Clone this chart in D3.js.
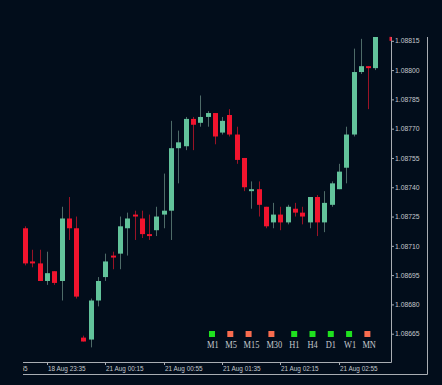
<!DOCTYPE html>
<html>
<head>
<meta charset="utf-8">
<script src="https://cdn.jsdelivr.net/npm/d3@7"></script>
<style>
  html, body { margin: 0; padding: 0; background: #020d1b; }
  svg { display: block; }
</style>
</head>
<body>
<div id="chart"></div>
<script>
// candles, 5 min bars, index 0..48
const opens  = [1.08719,1.08702,1.08701,1.08692,1.08697,1.08692,1.08724,1.08719,1.08663,1.08662,
                1.08682,1.08694,1.08705,1.08706,1.08719,1.08726,1.08724,1.08716,1.08718,1.08726,
                1.08728,1.08760,1.08761,1.08775,1.08773,1.08776,1.08778,1.08768,1.08777,1.08767,
                1.08755,1.08738,1.08739,1.08730,1.08722,1.08726,1.08722,1.08729,1.08727,1.08722,
                1.08735,1.08722,1.08731,1.08739,1.08750,1.08767,1.08799,1.08802,1.08801];
const highs  = [1.08720,1.08708,1.08708,1.08707,1.08697,1.08730,1.08735,1.08725,1.08664,1.08683,
                1.08694,1.08706,1.08707,1.08725,1.08727,1.08728,1.08728,1.08726,1.08730,1.08747,
                1.08774,1.08769,1.08776,1.08776,1.08787,1.08779,1.08778,1.08776,1.08780,1.08771,
                1.08755,1.08743,1.08743,1.08730,1.08732,1.08730,1.08731,1.08732,1.08730,1.08735,
                1.08736,1.08738,1.08743,1.08752,1.08771,1.08811,1.08816,1.08802,1.08825];
const lows   = [1.08700,1.08699,1.08692,1.08690,1.08690,1.08682,1.08713,1.08683,1.08661,1.08658,
                1.08679,1.08692,1.08698,1.08698,1.08705,1.08713,1.08714,1.08713,1.08715,1.08719,
                1.08713,1.08742,1.08759,1.08759,1.08771,1.08771,1.08762,1.08767,1.08766,1.08752,
                1.08738,1.08729,1.08725,1.08719,1.08719,1.08718,1.08721,1.08725,1.08721,1.08719,
                1.08715,1.08717,1.08730,1.08739,1.08742,1.08766,1.08798,1.08780,1.08800];
const closes = [1.08701,1.08701,1.08692,1.08696,1.08691,1.08724,1.08719,1.08684,1.08661,1.08682,
                1.08692,1.08702,1.08704,1.08720,1.08724,1.08725,1.08716,1.08715,1.08725,1.08728,
                1.08760,1.08763,1.08775,1.08772,1.08776,1.08778,1.08766,1.08774,1.08767,1.08754,
                1.08740,1.08739,1.08731,1.08720,1.08726,1.08722,1.08730,1.08727,1.08725,1.08735,
                1.08722,1.08732,1.08742,1.08748,1.08767,1.08799,1.08802,1.08801,1.08822];

const priceTicks = [1.08665,1.08680,1.08695,1.08710,1.08725,1.08740,1.08755,1.08770,1.08785,1.08800,1.08815];
const timeTickIdx = [-5, 3, 11, 19, 27, 35, 43];
const timeLabels = ["18 Aug 22:55","18 Aug 23:35","21 Aug 00:15","21 Aug 00:55","21 Aug 01:35","21 Aug 02:15","21 Aug 02:55"];

const tfNames = ["M1","M5","M15","M30","H1","H4","D1","W1","MN"];
const tfUp    = [true,false,false,false,true,true,true,true,false];

const W = 442, H = 385;
const plot = { left: 23, top: 37, right: 391, bottom: 362 };

const upCol = "#62c39b", dnCol = "#f2142e";
const upWick = "#4e6b68", dnWick = "#9a1326";
const axisCol = "#a9adb3", txtCol = "#c3c7cc";

const svg = d3.select("#chart").append("svg")
  .attr("width", W).attr("height", H);

svg.append("rect").attr("width", W).attr("height", H).attr("fill", "#020d1b");

const defs = svg.append("defs");
defs.append("clipPath").attr("id", "plotClip")
  .append("rect")
  .attr("x", plot.left).attr("y", plot.top)
  .attr("width", plot.right - plot.left).attr("height", plot.bottom - plot.top);
defs.append("clipPath").attr("id", "xClip")
  .append("rect")
  .attr("x", plot.left).attr("y", plot.bottom)
  .attr("width", plot.right - plot.left).attr("height", 14);

const x = d3.scaleLinear().domain([0, 48]).range([25, 375.4]);
const y = d3.scaleLinear().domain([1.08665, 1.08815]).range([333.7, 40.8]);

const candles = opens.map((o, i) => ({ i: i, o: o, h: highs[i], l: lows[i], c: closes[i] }));

const g = svg.append("g").attr("clip-path", "url(#plotClip)");

// wicks
g.selectAll(".wick").data(candles).enter().append("line")
  .attr("class", "wick")
  .attr("x1", d => Math.round(x(d.i)) + 0.5)
  .attr("x2", d => Math.round(x(d.i)) + 0.5)
  .attr("y1", d => y(d.h))
  .attr("y2", d => y(d.l))
  .attr("stroke", d => d.c >= d.o ? upWick : dnWick)
  .attr("stroke-width", 1);

// bodies
g.selectAll(".body").data(candles).enter().append("rect")
  .attr("class", "body")
  .attr("x", d => Math.round(x(d.i)) - 2)
  .attr("width", 5)
  .attr("y", d => y(Math.max(d.o, d.c)))
  .attr("height", d => Math.max(1.5, Math.abs(y(d.o) - y(d.c))))
  .attr("fill", d => d.c >= d.o ? upCol : dnCol);

// price axis
const yAxis = svg.append("g")
  .attr("transform", "translate(" + plot.right + ",0)")
  .call(d3.axisRight(y).tickValues(priceTicks).tickSize(3).tickPadding(1)
    .tickFormat(d3.format(".5f")));
yAxis.select(".domain").remove();
yAxis.selectAll(".tick line").attr("stroke", axisCol);
yAxis.selectAll("text").attr("fill", txtCol)
  .style("font-family", "'Liberation Sans', Arial, sans-serif").style("font-size", "6.8px");

svg.append("line")
  .attr("x1", plot.right + 0.5).attr("x2", plot.right + 0.5)
  .attr("y1", plot.top).attr("y2", plot.bottom + 0.5)
  .attr("stroke", axisCol);

// small price marker
svg.append("rect")
  .attr("x", plot.right - 1.5).attr("y", y(1.08816) - 2)
  .attr("width", 2).attr("height", 4)
  .attr("fill", dnCol);

// time axis
svg.append("line")
  .attr("x1", plot.left).attr("x2", plot.right + 0.5)
  .attr("y1", plot.bottom + 0.5).attr("y2", plot.bottom + 0.5)
  .attr("stroke", axisCol);

const xt = svg.append("g").attr("clip-path", "url(#xClip)");
timeTickIdx.forEach((ti, k) => {
  const px = Math.round(x(ti)) + 0.5;
  xt.append("line")
    .attr("x1", px).attr("x2", px)
    .attr("y1", plot.bottom).attr("y2", plot.bottom + 3)
    .attr("stroke", axisCol);
  xt.append("text")
    .attr("x", px + 0.5).attr("y", plot.bottom + 8.5)
    .attr("fill", txtCol)
    .style("font-family", "'Liberation Sans', Arial, sans-serif").style("font-size", "6.4px")
    .text(timeLabels[k]);
});

// outer frame
svg.append("path")
  .attr("d", "M" + plot.left + "," + 374.5 + "H427.5V" + plot.top)
  .attr("fill", "none")
  .attr("stroke", axisCol);

// timeframe panel
const legend = svg.append("g");
let lx = 207;
tfNames.forEach((n, k) => {
  legend.append("text")
    .attr("transform", "translate(" + lx + ",348) scale(0.8,1)")
    .attr("fill", txtCol)
    .style("font-family", "'Liberation Serif', 'Times New Roman', serif")
    .style("font-size", "10.5px")
    .text(n);
  legend.append("rect")
    .attr("x", lx + 2).attr("y", 331)
    .attr("width", 6).attr("height", 6)
    .attr("fill", tfUp[k] ? "#1fe01f" : "#f86c4f");
  lx += 18.3 + (n.length - 2) * 4.5;
});
</script>
</body>
</html>
